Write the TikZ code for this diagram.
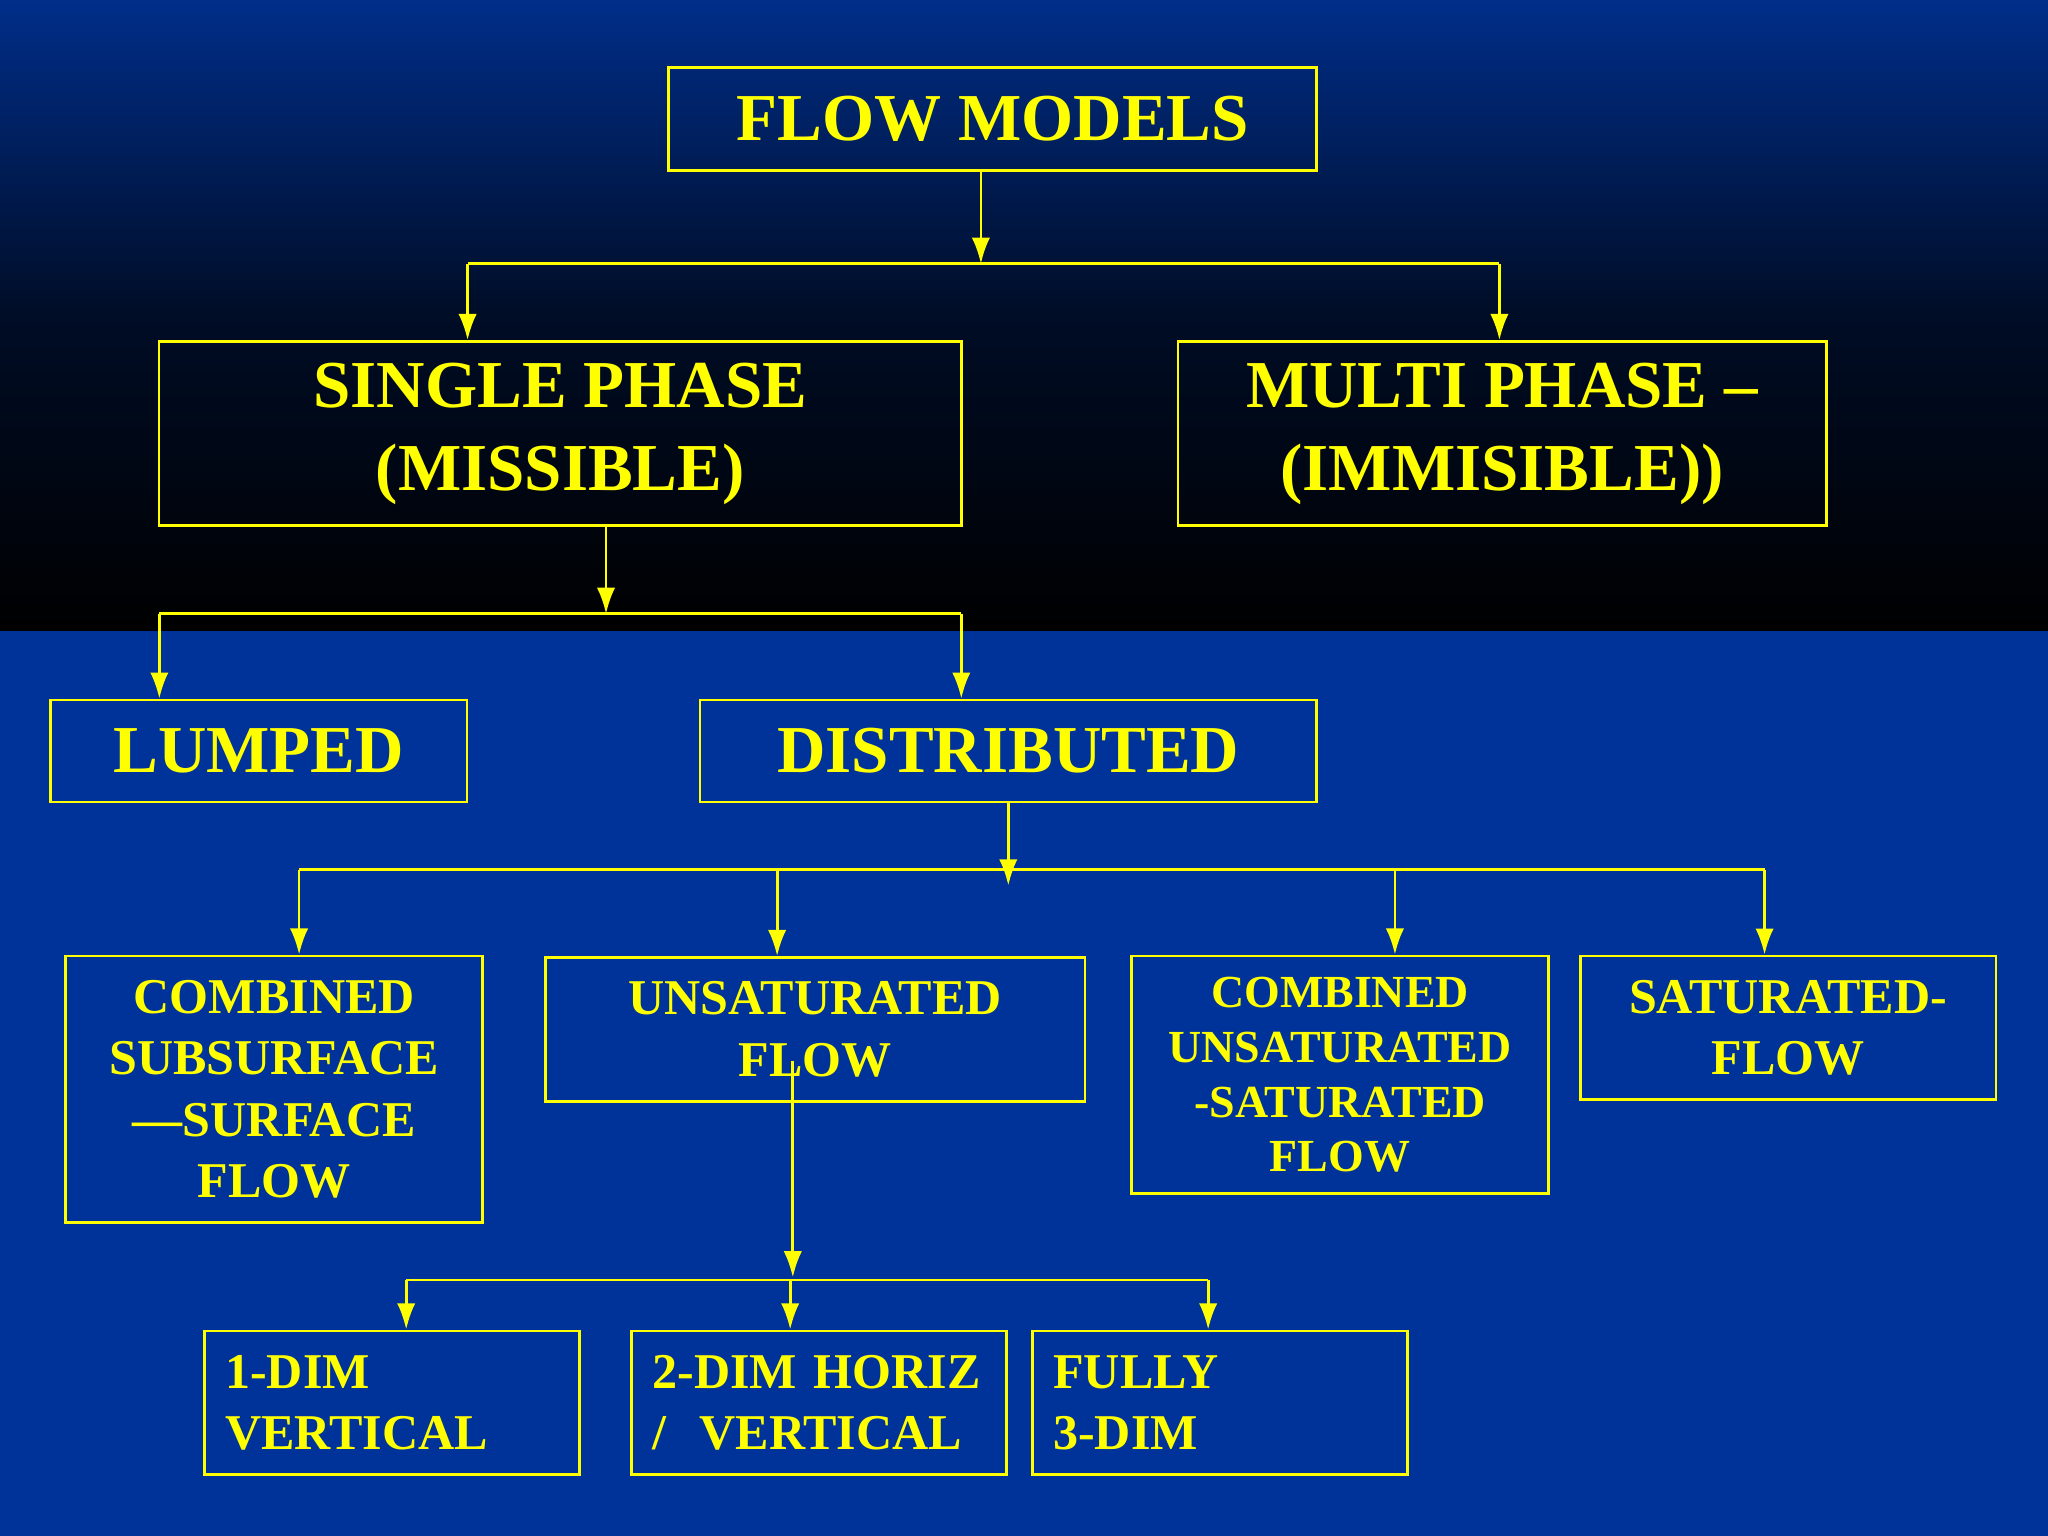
\documentclass[tikz,border=0pt]{standalone}
\usepackage{fontspec}
\setmainfont{Liberation Serif}
\usetikzlibrary{arrows.meta, positioning, calc}
\definecolor{slideblue}{RGB}{0,51,153}
\definecolor{textyellow}{RGB}{255,255,0}
\begin{document}
\begin{tikzpicture}[
        x=0.01cm, y=-0.01cm,
        box/.style={draw=textyellow, line width=0.6pt, text=textyellow, font=\bfseries, align=center, inner sep=0pt},
        big/.style={box, font=\fontsize{14.6}{18}\selectfont\bfseries},
        small/.style={box, font=\fontsize{10.9}{13.3}\selectfont\bfseries},
        link/.style={draw=textyellow, line width=0.6pt},
        arr/.style={link, -{Latex[length=2mm, width=1.4mm]}}
    ]
        % background
        \fill[slideblue] (0,0) rectangle (1568,1176);
        \shade[top color=slideblue!90!black, bottom color=black, middle color=black!75!slideblue] (0,0) rectangle (1568,483);
        \useasboundingbox (0,0) rectangle (1568,1176);

        % top levels
        \node[big, minimum width=4.96cm, minimum height=0.79cm] (flow) at (760,91) {FLOW MODELS};
        \node[big, minimum width=6.14cm, minimum height=1.41cm] (single) at (429,332) {SINGLE PHASE\\(MISSIBLE)};
        \node[big, minimum width=4.96cm, minimum height=1.41cm] (multi) at (1150,332) {MULTI PHASE --\\(IMMISIBLE))};
        \node[big, minimum width=3.19cm, minimum height=0.78cm] (lumped) at (198,575) {LUMPED};
        \node[big, minimum width=4.72cm, minimum height=0.78cm] (distr) at (772,575) {DISTRIBUTED};

        % distributed models
        \node[small, minimum width=3.19cm, minimum height=2.04cm] (combsub) at (210,834) {COMBINED\\SUBSURFACE\\---SURFACE\\FLOW};
        \node[small, minimum width=4.13cm, minimum height=1.10cm, anchor=north] (unsat) at (624,732) {UNSATURATED\\FLOW};
        \node[small, minimum width=3.19cm, minimum height=1.82cm, font=\fontsize{10}{11.9}\selectfont\bfseries] (combunsat) at (1026,823) {COMBINED\\UNSATURATED\\-SATURATED\\FLOW};
        \node[small, minimum width=3.18cm, minimum height=1.10cm] (sat) at (1369,787) {SATURATED-\\FLOW};

        % unsaturated models
        \node[small, minimum width=2.87cm, minimum height=1.10cm, align=left, text width=2.55cm] (onedim) at (300,1074) {1-DIM\\VERTICAL};
        \node[small, minimum width=2.87cm, minimum height=1.10cm, align=left, text width=2.55cm] (twodim) at (627,1074) {\mbox{2-DIM HORIZ}\\\mbox{/~ VERTICAL}};
        \node[small, minimum width=2.87cm, minimum height=1.10cm, align=left, text width=2.55cm] (fully) at (934,1074) {FULLY\\3-DIM};

        % junctions
        \coordinate (j1) at (751,202);
        \coordinate (j2) at (464,470);
        \coordinate (j3) at (772,678);
        \coordinate (j4) at (607,978);

        \draw[arr] (flow.south -| j1) -- (j1);
        \draw[link] (358,202) -- (1148,202);
        \draw[arr] (358,202) -- (single.north -| 358,0);
        \draw[arr] (1148,202) -- (multi.north -| 1148,0);

        \draw[arr] (single.south -| j2) -- (j2);
        \draw[link] (122,470) -- (736,470);
        \draw[arr] (122,470) -- (lumped.north -| 122,0);
        \draw[arr] (736,470) -- (distr.north -| 736,0);

        \draw[arr] (distr.south -| j3) -- (j3);
        \draw[link] (229,666) -- (1351,666);
        \draw[arr] (229,666) -- (combsub.north -| 229,0);
        \draw[arr] (595,666) -- (unsat.north -| 595,0);
        \draw[arr] (1068,666) -- (combunsat.north -| 1068,0);
        \draw[arr] (1351,666) -- (sat.north -| 1351,0);

        \draw[arr] (607,812) -- (j4);
        \draw[link] (311,980) -- (925,980);
        \draw[arr] (311,980) -- (onedim.north -| 311,0);
        \draw[arr] (605,980) -- (twodim.north -| 605,0);
        \draw[arr] (925,980) -- (fully.north -| 925,0);
    \end{tikzpicture}
\end{document}
